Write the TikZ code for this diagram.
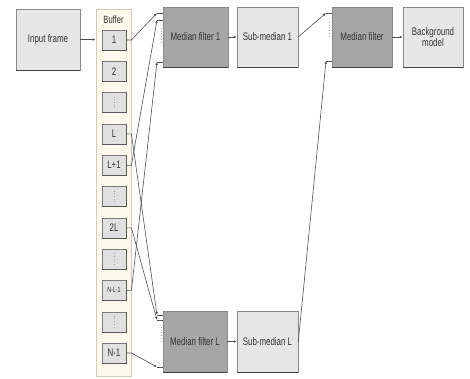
\documentclass[tikz,border=0pt]{standalone}
\usepackage{fontspec}
\setmainfont{Liberation Sans}[FakeStretch=0.72]
\usetikzlibrary{arrows.meta,calc}
\definecolor{edge}{HTML}{8A8A8A}
\definecolor{lightfill}{HTML}{E6E6E6}
\definecolor{darkfill}{HTML}{A6A6A6}
\definecolor{cellfill}{HTML}{E0E0E0}
\definecolor{celledge}{HTML}{7A7A7A}
\definecolor{buffill}{HTML}{FBF8EC}
\definecolor{bufedge}{HTML}{CFCAB6}
\definecolor{linec}{HTML}{505050}
\definecolor{textc}{HTML}{333333}
\begin{document}
\begin{tikzpicture}[x=1pt,y=-1pt,
  light/.style={rectangle, draw=edge, fill=lightfill, inner sep=0pt, align=center, text=textc, font=\fontsize{11}{12.5}\selectfont},
  dark/.style={light, fill=darkfill},
  cellbox/.style={rectangle, draw=celledge, fill=cellfill, minimum width=24pt, minimum height=20pt, inner sep=0pt, text=textc, font=\fontsize{11}{12}\selectfont},
  conn/.style={draw=linec, line width=0.6pt},
  tipped/.style={-{Latex[length=3pt,width=2.6pt]}},
  shadowline/.style={draw=black!75, line width=1.1pt},
  dotmark/.style={draw=gray!70, dotted, line width=0.7pt}
]
\useasboundingbox (0,0) rectangle (470,378);
\fill[white] (0,0) rectangle (470,378);

% main boxes
\node[light, minimum width=64pt, minimum height=61pt] (inp) at (48,39.5) {Input frame};
\node[rectangle, draw=bufedge, fill=buffill, line width=0.8pt, minimum width=35pt, minimum height=367pt, inner sep=0pt] (buf) at (113.5,192.5) {};
\node[text=textc, font=\fontsize{10.5}{11}\selectfont] (buflabel) at (113.5,19.5) {Buffer};

\node[dark, minimum width=65pt, minimum height=60pt] (mf1) at (195.5,37) {Median filter 1};
\node[light, minimum width=61pt, minimum height=60pt] (sm1) at (267.5,37) {Sub-median 1};
\node[dark, minimum width=60pt, minimum height=60pt] (mf) at (362,37) {Median filter};
\node[light, minimum width=60pt, minimum height=60pt] (bg) at (433,37) {Background\\[-1pt]model};
\node[dark, minimum width=64pt, minimum height=61pt] (mfl) at (195,341.5) {Median filter L};
\node[light, minimum width=61pt, minimum height=61pt] (sml) at (267.5,341.5) {Sub-median L};

% buffer cells
\node[cellbox] (c1) at (114,40) {1};
\node[cellbox] (c2) at (114,71.3) {2};
\node[cellbox] (c3) at (114,102.6) {};
\node[cellbox] (c4) at (114,133.9) {L};
\node[cellbox] (c5) at (114,165.2) {L+1};
\node[cellbox] (c6) at (114,196.5) {};
\node[cellbox] (c7) at (114,227.8) {2L};
\node[cellbox] (c8) at (114,259.1) {};
\node[cellbox, font=\fontsize{7.5}{8}\selectfont] (c9) at (114,290.4) {N-L-1};
\node[cellbox] (c10) at (114,321.7) {};
\node[cellbox] (c11) at (114,353) {N-1};

% shadows
\foreach \n in {inp,mf1,sm1,mf,bg,mfl,sml}{
  \draw[shadowline] ([xshift=0.5pt]\n.south west) -- ([xshift=-0.5pt]\n.south east);
}
\foreach \n in {c1,c2,c3,c4,c5,c6,c7,c8,c9,c10,c11}{
  \draw[draw=black!65, line width=0.8pt] (\n.south west) -- (\n.south east) -- (\n.north east);
}

% dotted cells
\foreach \n in {c3,c6,c8,c10}{
  \draw[dotmark] ($(\n.center)+(0,-6)$) -- ($(\n.center)+(0,6)$);
}

% input points
\coordinate (a1) at (157,13);
\coordinate (a2) at (157,20);
\coordinate (a3) at (157,62);
\coordinate (b1) at (157,315);
\coordinate (b2) at (157,320);
\coordinate (b3) at (157,367);
\coordinate (m1) at (326,13);
\coordinate (m3) at (326,61);

% dotted markers at filter inputs
\draw[dotmark] (161,28) -- (161,42);
\draw[dotmark] (161,327) -- (161,341);
\draw[dotmark] (329,22) -- (329,36);

% stubs into the filters
\foreach \p/\b in {a1/mf1,a2/mf1,a3/mf1,b1/mfl,b2/mfl,b3/mfl,m1/mf,m3/mf}{
  \draw[conn] (\p) -- (\p -| \b.west);
}

% buffer -> median filters
\draw[conn, tipped] (c1.east) -- (c1.east -| buf.east) -- (a1);
\draw[conn, tipped] (c5.east) -- (c5.east -| buf.east) -- (a2);
\draw[conn, tipped] (c9.east) -- (c9.east -| buf.east) -- (a3);
\draw[conn, tipped] (c4.east) -- (c4.east -| buf.east) -- (b1);
\draw[conn, tipped] (c7.east) -- (c7.east -| buf.east) -- (b2);
\draw[conn, tipped] (c11.east) -- (c11.east -| buf.east) -- (b3);

% sub-medians -> final median filter
\draw[conn, tipped] (sm1.east) -- (m1);
\draw[conn, tipped] ([yshift=-1pt]sml.east) -- (m3);

% horizontal arrows
\draw[conn, tipped] (inp.east) -- (inp.east -| buf.west);
\draw[conn, tipped] (mf1.east) -- (sm1.west);
\draw[conn, tipped] (mfl.east) -- (sml.west);
\draw[conn, tipped] (mf.east) -- (bg.west);
\end{tikzpicture}
\end{document}
